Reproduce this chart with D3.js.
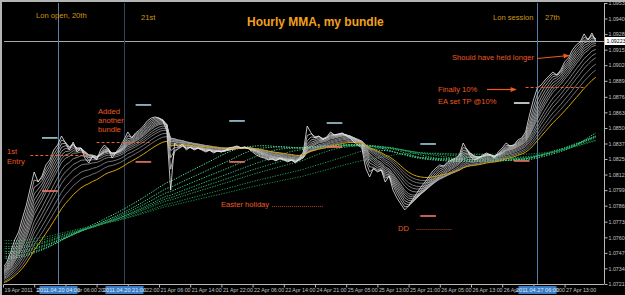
<!DOCTYPE html>
<html>
<head>
<meta charset="utf-8">
<script src="https://d3js.org/d3.v7.min.js"></script>
<style>
  body { margin: 0; background: #000; }
  svg { display: block; font-family: "Liberation Sans", Arial, sans-serif; }
  .axis text { fill: #c4c4c4; font-size: 5.3px; }
  .axis path, .axis line { stroke: #b8b8b8; }
  .note { fill: #ec5a22; font-size: 7.6px; }
  .gold { fill: #cf9812; font-size: 7.6px; }
</style>
</head>
<body>
<div id="chart"></div>
<script>
// hourly closes, 19 Apr 14:00 .. 27 Apr 14:00 (fastest line of the bundle)
var closes = [
  1.07351, 1.07400, 1.07483, 1.07582, 1.07648, 1.07763, 1.07871, 1.08011, 1.08143, 1.08060,
  1.08110, 1.08201, 1.08242, 1.08324, 1.08366, 1.08440, 1.08382, 1.08324, 1.08390, 1.08308,
  1.08341, 1.08258, 1.08217, 1.08275, 1.08242, 1.08324, 1.08366, 1.08333, 1.08258, 1.08308,
  1.08349, 1.08407, 1.08473, 1.08423, 1.08465, 1.08489, 1.08522, 1.08564, 1.08588, 1.08597,
  1.08588, 1.08564, 1.08481, 1.07994, 1.08382, 1.08349, 1.08374, 1.08324, 1.08349, 1.08324,
  1.08341, 1.08324, 1.08308, 1.08324, 1.08300, 1.08316, 1.08308, 1.08324, 1.08341, 1.08349,
  1.08358, 1.08341, 1.08349, 1.08333, 1.08308, 1.08283, 1.08267, 1.08258, 1.08242, 1.08250,
  1.08234, 1.08258, 1.08242, 1.08226, 1.08242, 1.08217, 1.08258, 1.08308, 1.08522, 1.08465,
  1.08423, 1.08440, 1.08407, 1.08432, 1.08473, 1.08448, 1.08457, 1.08465, 1.08440, 1.08423,
  1.08390, 1.08366, 1.08341, 1.08176, 1.08102, 1.08176, 1.08143, 1.08160, 1.08060, 1.08110,
  1.07994, 1.07929, 1.07879, 1.07830, 1.07863, 1.07912, 1.07962, 1.08011, 1.08052, 1.08094,
  1.08143, 1.08176, 1.08201, 1.08193, 1.08226, 1.08242, 1.08258, 1.08283, 1.08382, 1.08324,
  1.08267, 1.08242, 1.08258, 1.08283, 1.08300, 1.08283, 1.08258, 1.08308, 1.08341, 1.08382,
  1.08358, 1.08366, 1.08407, 1.08423, 1.08473, 1.08613, 1.08737, 1.08836, 1.08861, 1.08902,
  1.08935, 1.08968, 1.08943, 1.08985, 1.09051, 1.09084, 1.09150, 1.09191, 1.09216, 1.09282,
  1.09232, 1.09290, 1.09223
];

// bundle settings: periods and the level each line starts from at the left edge
var whitePeriods = [2, 3, 4, 5, 6, 7, 8, 10, 12, 14, 17, 20];
var whiteStart = [1.07335, 1.07326, 1.07318, 1.07310, 1.07302, 1.07293, 1.07285, 1.07277, 1.07268, 1.07260, 1.07252, 1.07236];
var yellowPeriod = 24;
var yellowStart = 1.07227;
var greenPeriods = [55, 60, 65, 70, 75, 80, 90, 100];
var greenStart = [1.07434, 1.07450, 1.07475, 1.07491, 1.07516, 1.07532, 1.07557, 1.07582];

var priceTicks = [1.09537, 1.09409, 1.09280, 1.09152, 1.09024, 1.08895, 1.08763, 1.08635, 1.08506, 1.08378,
                  1.08250, 1.08122, 1.07993, 1.07865, 1.07733, 1.07604, 1.07476, 1.07348, 1.07219];
var lastPrice = 1.09223;

var timeTickBars = [0, 8, 16, 24, 32, 40, 48, 56, 64, 72, 80, 88, 96, 104, 112, 120, 128, 136, 144];
var timeTickLabels = ["19 Apr 2011", "19 Apr 22:00", "20 Apr 06:00", "20 Apr 14:00", "20 Apr 22:00",
  "21 Apr 06:00", "21 Apr 14:00", "21 Apr 22:00", "22 Apr 06:00", "22 Apr 14:00", "24 Apr 21:00",
  "25 Apr 05:00", "25 Apr 13:00", "25 Apr 21:00", "26 Apr 05:00", "26 Apr 13:00", "26 Apr 21:00",
  "27 Apr 05:00", "27 Apr 13:00"];

var vlineBars = [14, 31, 137];
var vlineLabels = ["2011.04.20 04:00", "2011.04.20 21:00", "2011.04.27 06:00"];
var vlineColors = ["#5a80a6", "#2b4260", "#4b7cab"];

// session high / low markers
var markBars = [10, 34, 58, 83, 107, 131];
var markHighs = [1.08424, 1.08696, 1.08564, 1.08547, 1.08374, 1.08712];
var markLows = [1.07986, 1.08226, 1.08226, 1.08349, 1.07780, 1.08234];

// drawn levels: entries and TP (dashed), notes (dotted)
var dashLevels = [1.08283, 1.08391, 1.08844];
var dashFrom = [7, 24, 134];
var dashTo = [22, 38, 149];
var dotLevels = [1.07863, 1.07673];
var dotFrom = [69, 106];
var dotTo = [82, 115];

var W = 625, H = 295;
var plotL = 4, plotR = 604, plotT = 3, plotB = 284;

var svg = d3.select("#chart").append("svg").attr("width", W).attr("height", H);
svg.append("rect").attr("width", W).attr("height", H).attr("fill", "#000");

var x = d3.scaleLinear().domain([0, 152]).range([3, 3 + 152 * 3.9]);
var y = d3.scaleLinear().domain([1.07219, 1.09537]).range([plotB, plotT]);

svg.append("clipPath").attr("id", "plot")
  .append("rect").attr("x", plotL).attr("y", plotT).attr("width", plotR - plotL).attr("height", plotB - plotT);

function ema(src, period, start) {
  var a = 2 / (period + 1), out = [start];
  for (var i = 1; i < src.length; i++) out.push(a * src[i] + (1 - a) * out[i - 1]);
  return out;
}
function sma(src, period, start) {
  return src.map(function(v, i) {
    var s = 0;
    for (var k = i - period + 1; k <= i; k++) s += k < 0 ? start : src[k];
    return s / period;
  });
}

var line = d3.line().x(function(d, i) { return x(i); }).y(function(d) { return y(d); });
var g = svg.append("g").attr("clip-path", "url(#plot)");

// current price line
var yLast = Math.round(y(lastPrice)) + 0.5;
g.append("line").attr("x1", plotL).attr("x2", plotR).attr("y1", yLast).attr("y2", yLast)
  .attr("stroke", "#a8a8a8");

// vertical lines
vlineBars.forEach(function(b, i) {
  var xx = Math.round(x(b)) + 0.5;
  g.append("line").attr("x1", xx).attr("x2", xx).attr("y1", plotT).attr("y2", plotB)
    .attr("stroke", vlineColors[i]);
});

// slow group: green dotted
var greenColor = d3.scaleLinear().domain([0, greenPeriods.length - 1]).range(["#4fe6a0", "#178a46"]);
greenPeriods.forEach(function(p, i) {
  g.append("path").datum(sma(closes, p, greenStart[i])).attr("d", line)
    .attr("fill", "none").attr("stroke", greenColor(i)).attr("stroke-width", 1)
    .attr("stroke-dasharray", "1.3,1.3");
});

// fast group: white bundle
var whiteColor = d3.scaleLinear().domain([0, whitePeriods.length - 1]).range(["#d2d2d2", "#969696"]);
for (var i = whitePeriods.length - 1; i >= 0; i--) {
  g.append("path").datum(ema(closes, whitePeriods[i], whiteStart[i])).attr("d", line)
    .attr("fill", "none").attr("stroke", whiteColor(i)).attr("stroke-width", 0.75);
}
g.append("path").datum(ema(closes, yellowPeriod, yellowStart)).attr("d", line)
  .attr("fill", "none").attr("stroke", "#d4a20a").attr("stroke-width", 1);
g.append("path").datum(closes).attr("d", line)
  .attr("fill", "none").attr("stroke", "#eeeeee").attr("stroke-width", 0.8);

// session markers
markBars.forEach(function(b, i) {
  g.append("line").attr("x1", x(b)).attr("x2", x(b + 4))
    .attr("y1", y(markHighs[i])).attr("y2", y(markHighs[i]))
    .attr("stroke", i === 5 ? "#e4eef0" : "#9fd0dc").attr("stroke-width", 1.6);
  g.append("line").attr("x1", x(b)).attr("x2", x(b + 4))
    .attr("y1", y(markLows[i])).attr("y2", y(markLows[i]))
    .attr("stroke", "#f07a68").attr("stroke-width", 1.6);
});

// entry / TP levels
dashLevels.forEach(function(v, i) {
  var yy = Math.round(y(v)) + 0.5;
  g.append("line").attr("x1", x(dashFrom[i])).attr("x2", x(dashTo[i])).attr("y1", yy).attr("y2", yy)
    .attr("stroke", "#e8602a").attr("stroke-dasharray", "3,2");
});
dotLevels.forEach(function(v, i) {
  var yy = Math.round(y(v)) + 0.5;
  g.append("line").attr("x1", x(dotFrom[i])).attr("x2", x(dotTo[i])).attr("y1", yy).attr("y2", yy)
    .attr("stroke", "#b8401a").attr("stroke-dasharray", "1,1");
});

// axes
var yAxis = d3.axisRight(y).tickValues(priceTicks).tickSize(3).tickPadding(1)
  .tickFormat(d3.format(".5f"));
svg.append("g").attr("class", "axis").attr("transform", "translate(" + (plotR + 0.5) + ",0)").call(yAxis)
  .call(function(a) { a.select(".domain").attr("d", "M0," + plotT + "V" + plotB); });

var xAxis = d3.axisBottom(x).tickValues(timeTickBars).tickSize(3).tickPadding(1)
  .tickFormat(function(d, i) { return timeTickLabels[i]; });
svg.append("g").attr("class", "axis").attr("transform", "translate(0," + (plotB + 0.5) + ")").call(xAxis)
  .call(function(a) {
    a.select(".domain").attr("d", "M" + plotL + ",0H" + plotR);
    a.selectAll("text").attr("text-anchor", "start").attr("dx", 1).attr("dy", "0.6em");
  });

// vertical line date boxes
vlineBars.forEach(function(b, i) {
  var xx = Math.round(x(b)) + 0.5;
  svg.append("rect").attr("x", xx - 19).attr("y", 286).attr("width", 38).attr("height", 8).attr("fill", "#3a7cc4");
  svg.append("text").attr("x", xx).attr("y", 292).attr("text-anchor", "middle")
    .attr("fill", "#dbe9ff").attr("font-size", "5.6px").text(vlineLabels[i]);
});

// current price box
svg.append("rect").attr("x", plotR + 1).attr("y", yLast - 4.5).attr("width", 21).attr("height", 8).attr("fill", "#fff");
svg.append("text").attr("x", plotR + 2.5).attr("y", yLast + 1.8).attr("fill", "#000")
  .attr("font-size", "5.3px").text(d3.format(".5f")(lastPrice));

// window frame
svg.append("path").attr("d", "M1,295V1H625").attr("fill", "none").attr("stroke", "#b4b4b4").attr("stroke-width", 2);

// annotations
svg.append("text").attr("x", 247).attr("y", 26).attr("fill", "#f2a01c")
  .attr("font-size", "12px").attr("font-weight", "bold").text("Hourly MMA, my bundle");

[["Lon open, 20th", 36, 18], ["21st", 141, 19.5], ["Lon session", 493, 19.5], ["27th", 545, 19.5]]
  .forEach(function(t) {
    svg.append("text").attr("class", "gold").attr("x", t[1]).attr("y", t[2]).text(t[0]);
  });

[["1st", 7, 154], ["Entry", 7, 163.5], ["Added", 98, 114], ["another", 98, 123], ["bundle", 98, 132],
 ["Easter holiday", 221, 207], ["DD", 398, 231], ["Should have held longer", 452, 60],
 ["Finally 10%", 438, 92], ["EA set TP @10%", 438, 104]]
  .forEach(function(t) {
    svg.append("text").attr("class", "note").attr("x", t[1]).attr("y", t[2]).text(t[0]);
  });

// arrows
svg.append("defs").append("marker").attr("id", "head").attr("viewBox", "0 0 10 10")
  .attr("refX", 9).attr("refY", 5).attr("markerWidth", 7).attr("markerHeight", 5).attr("orient", "auto")
  .append("path").attr("d", "M0,1L10,5L0,9Z").attr("fill", "#f05a22");
[[537, 58.5, 569, 55.5], [487, 89.5, 516, 89.5]].forEach(function(a) {
  svg.append("line").attr("x1", a[0]).attr("y1", a[1]).attr("x2", a[2]).attr("y2", a[3])
    .attr("stroke", "#f05a22").attr("stroke-width", 1.2).attr("marker-end", "url(#head)");
});
</script>
</body>
</html>
